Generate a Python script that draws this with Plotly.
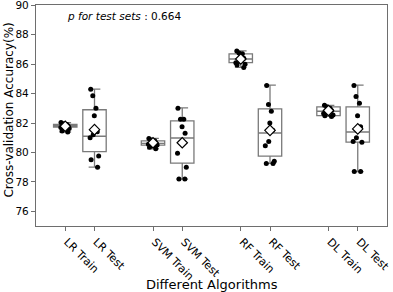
import plotly.graph_objects as go

# ---- data ----
categories = ["LR Train", "LR Test", "SVM Train", "SVM Test",
              "RF Train", "RF Test", "DL Train", "DL Test"]
positions = [0, 1, 3, 4, 6, 7, 9, 10]

samples = {
    "LR Train": [82.03, 81.95, 81.9, 81.85, 81.8, 81.75, 81.7, 81.62, 81.46, 81.39],
    "LR Test": [84.3, 83.85, 83.0, 82.5, 81.4, 81.2, 81.0, 79.75, 79.5, 79.0],
    "SVM Train": [80.95, 80.85, 80.8, 80.7, 80.65, 80.6, 80.55, 80.5, 80.35, 80.25],
    "SVM Test": [83.0, 82.25, 82.25, 81.75, 81.3, 80.7, 79.95, 79.0, 78.2, 78.2],
    "RF Train": [86.9, 86.75, 86.7, 86.5, 86.4, 86.2, 86.1, 86.0, 85.95, 85.78],
    "RF Test": [84.55, 83.25, 82.8, 82.0, 81.5, 80.75, 80.45, 79.4, 79.25, 79.25],
    "DL Train": [83.2, 83.1, 83.0, 82.95, 82.85, 82.75, 82.65, 82.55, 82.5, 82.45],
    "DL Test": [84.55, 83.8, 83.35, 82.5, 81.75, 81.0, 80.75, 80.7, 78.7, 78.7],
}

q1 = [81.73, 80.05, 80.5, 79.27, 86.1, 79.75, 82.5, 80.7]
median = [81.82, 81.1, 80.62, 80.98, 86.35, 81.32, 82.8, 81.39]
q3 = [81.91, 82.9, 80.78, 82.14, 86.7, 82.96, 83.1, 83.1]
lowerfence = [81.39, 79.0, 80.25, 78.18, 85.78, 79.25, 82.45, 78.7]
upperfence = [82.03, 84.3, 80.95, 83.03, 86.9, 84.58, 83.2, 84.58]
means = [81.78, 81.55, 80.66, 80.66, 86.35, 81.5, 82.85, 81.6]

y_ticks = [76, 78, 80, 82, 84, 86, 88, 90]
p_value = "0.664"

FONT = "DejaVu Sans"

fig = go.Figure()

# boxes from precomputed statistics
fig.add_trace(go.Box(
    x=positions, q1=q1, median=median, q3=q3,
    lowerfence=lowerfence, upperfence=upperfence,
    width=0.8, whiskerwidth=0.5,
    fillcolor="rgba(255,255,255,0)",
    line=dict(color="#7a7a7a", width=1.3),
    boxpoints=False, showlegend=False, hoverinfo="skip",
))

# sample points (jittered strip)
for cat, pos in zip(categories, positions):
    fig.add_trace(go.Box(
        x=[pos] * len(samples[cat]), y=samples[cat],
        boxpoints="all", jitter=0.5, pointpos=0, width=0.8,
        fillcolor="rgba(0,0,0,0)", line=dict(color="rgba(0,0,0,0)", width=0),
        marker=dict(color="black", size=5),
        showlegend=False, hoverinfo="skip",
    ))

# mean markers
fig.add_trace(go.Scatter(
    x=positions, y=means, mode="markers",
    marker=dict(symbol="diamond", size=8, color="white",
                line=dict(color="black", width=1.2)),
    showlegend=False, hoverinfo="skip",
))

fig.add_annotation(
    x=0.083, y=0.952, xref="paper", yref="paper",
    xanchor="left", yanchor="middle", showarrow=False,
    text="<i>p for test sets</i> : " + p_value,
    font=dict(family=FONT, size=10.5, color="black"),
)

# axis titles as annotations for exact placement
fig.add_annotation(
    x=0.5, y=-0.263, xref="paper", yref="paper",
    xanchor="center", yanchor="middle", showarrow=False,
    text="Different Algorithms",
    font=dict(family=FONT, size=13, color="black"),
)
fig.add_annotation(
    x=-0.078, y=0.525, xref="paper", yref="paper",
    xanchor="center", yanchor="middle", showarrow=False, textangle=-90,
    text="Cross-validation Accuracy(%)",
    font=dict(family=FONT, size=12, color="black"),
)

axis_common = dict(
    showline=True, linecolor="#6e6e6e", linewidth=1.3, mirror=True,
    ticks="outside", ticklen=4, tickcolor="#6e6e6e", tickwidth=1,
    showgrid=False, zeroline=False, automargin=False,
    ticklabeloverflow="allow",
)

fig.update_layout(
    width=393, height=292,
    margin=dict(l=36, r=6, t=5, b=66, autoexpand=False),
    plot_bgcolor="white", paper_bgcolor="white",
    boxmode="overlay",
    xaxis=dict(
        range=[-1, 11], tickmode="array", tickvals=positions,
        ticktext=categories, tickangle=45, ticklabelshift=2,
        tickfont=dict(family=FONT, size=11, color="black"),
        **axis_common,
    ),
    yaxis=dict(
        range=[75, 90.02], tickmode="array", tickvals=y_ticks,
        tickfont=dict(family=FONT, size=10.5, color="black"),
        **axis_common,
    ),
)

fig.write_html(
    "out.html",
    config={"displayModeBar": False},
    post_script="document.body.style.margin='0';document.body.style.padding='0';",
)
